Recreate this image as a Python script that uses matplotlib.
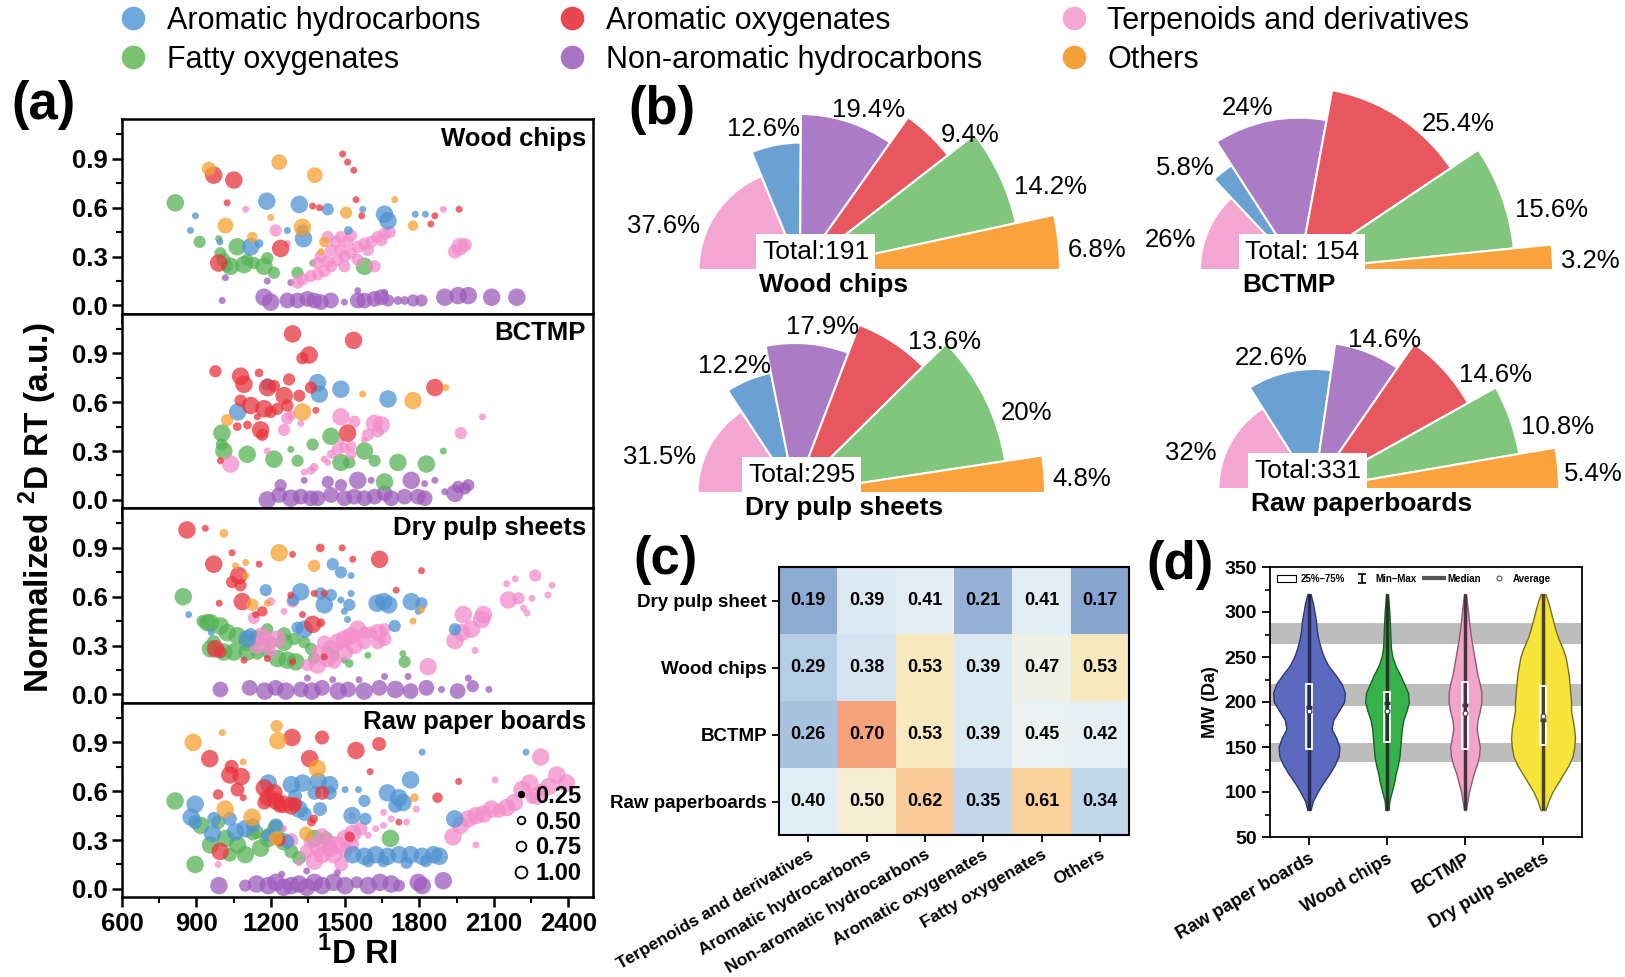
import numpy as np
import matplotlib
matplotlib.use("Agg")
import matplotlib.pyplot as plt
from matplotlib.patches import Wedge, Rectangle, Patch
from matplotlib.lines import Line2D
from matplotlib.colors import LinearSegmentedColormap

plt.rcParams['font.family'] = ['Liberation Sans', 'DejaVu Sans']
plt.rcParams['mathtext.fontset'] = 'custom'
plt.rcParams['mathtext.rm'] = 'Liberation Sans'
plt.rcParams['mathtext.bf'] = 'Liberation Sans:bold'

#### data #####################################################################
categories = ['Aromatic hydrocarbons', 'Fatty oxygenates', 'Aromatic oxygenates',
              'Non-aromatic hydrocarbons', 'Terpenoids and derivatives', 'Others']
cat_colors = ['#6fa8dc', '#7ac170', '#e8474f', '#a974c4', '#f4a8d2', '#f5a03a']

# (a) scatter points: (1D RI, normalized 2D RT, relative size)
wood_blue = [(1184,0.64,1.0),(1315,0.62,1.0),(1430,0.59,0.7),(896,0.55,0.4),(876,0.46,0.4),(1332,0.41,1.0),
             (1328,0.46,0.7),(1119,0.36,1.0),(1153,0.38,0.5),(1571,0.59,0.4),(1513,0.46,0.5),(1659,0.56,1.0),
             (1673,0.52,1.0),(1783,0.56,0.4),(1824,0.56,0.4),(995,0.39,0.4),(1267,0.46,0.4)]
wood_red = [(970,0.80,1.0),(1051,0.77,1.0),(1490,0.93,0.4),(1510,0.88,0.4),(1535,0.83,0.4),(1024,0.63,0.4),
            (1369,0.61,0.4),(1396,0.60,0.4),(1544,0.65,0.4),(1567,0.55,0.4),(1862,0.55,0.4),(1846,0.50,0.4),
            (1960,0.59,0.4),(1240,0.35,1.0),(990,0.26,1.0)]
wood_pink = [(1099,0.59,0.4),(1220,0.46,0.7),(1267,0.38,0.4),(1896,0.59,0.4),(1963,0.36,1.0),(1983,0.37,0.8),
             (1943,0.33,0.8),(1328,0.16,0.7),(1362,0.18,0.7),(1389,0.19,0.7),(1416,0.21,0.7),(1443,0.24,0.7),
             (1430,0.27,0.7),(1470,0.28,0.7),(1497,0.30,0.7),(1483,0.34,0.7),(1524,0.32,0.7),(1551,0.36,0.7),
             (1578,0.38,0.7),(1605,0.39,0.7),(1632,0.42,0.7),(1659,0.44,0.7),(1680,0.45,0.7),(1483,0.42,0.7),
             (1510,0.39,0.7),(1443,0.34,0.7),(1389,0.26,0.7),(1497,0.24,0.7),(1551,0.28,0.7),(1592,0.34,0.7),
             (1619,0.24,0.7),(1646,0.40,0.7),(1308,0.14,0.7),(1402,0.30,0.7),(1463,0.39,0.7),(1524,0.43,0.7),
             (1430,0.42,0.7)]
wood_green = [(815,0.63,1.0),(913,0.39,0.7),(990,0.41,0.4),(1065,0.36,1.0),(997,0.32,0.7),(1038,0.24,1.0),
              (1092,0.25,1.0),(1105,0.28,0.7),(1173,0.24,1.0),(1213,0.20,0.7),(1308,0.20,0.7),(1369,0.26,0.4),
              (1578,0.24,1.0),(1024,0.24,0.7),(1186,0.29,0.7),(1132,0.26,0.7),(1010,0.28,0.8)]
wood_purple = [(1004,0.03,0.4),(1173,0.05,1.0),(1200,0.02,1.0),(1267,0.03,0.9),(1308,0.03,0.9),(1348,0.04,0.9),
               (1375,0.03,0.9),(1402,0.02,0.9),(1443,0.03,0.9),(1497,0.02,0.4),(1551,0.03,0.9),(1578,0.03,0.9),
               (1619,0.04,0.9),(1646,0.05,0.9),(1673,0.03,0.7),(1713,0.03,0.5),(1740,0.03,0.5),(1774,0.03,0.7),
               (1808,0.03,0.7),(1902,0.05,1.0),(1956,0.06,1.0),(1997,0.06,1.0),(2091,0.05,1.0),(2193,0.05,1.0),
               (1017,0.17,0.4),(1186,0.15,0.4),(1281,0.14,0.4),(1551,0.09,0.4),(1659,0.08,0.4)]
wood_orange = [(950,0.84,0.8),(1234,0.88,0.9),(1378,0.80,0.9),(1700,0.65,0.4),(1017,0.49,0.9),(1200,0.54,0.4),
               (1504,0.57,0.7),(1328,0.48,1.0),(1126,0.42,0.6),(1416,0.39,0.6),(1403,0.33,0.4),(1774,0.49,0.6)]

bct_blue = [(1389,0.72,1.0),(1396,0.65,1.0),(1483,0.68,1.0),(1673,0.62,1.0),(1067,0.54,1.0),(1186,0.71,0.7)]
bct_red = [(1288,1.02,1.0),(1534,0.98,1.0),(1355,0.89,1.0),(1328,0.87,0.7),(977,0.79,0.7),(1078,0.76,1.0),
           (1092,0.71,1.0),(1153,0.78,0.5),(1187,0.69,1.0),(1213,0.70,0.7),(1274,0.74,0.7),(1254,0.64,1.0),
           (1315,0.64,0.7),(1078,0.61,0.7),(1119,0.58,1.0),(1173,0.56,1.0),(1200,0.54,0.7),(1227,0.56,0.7),
           (1267,0.58,0.7),(1382,0.55,0.4),(1146,0.51,0.4),(1065,0.45,0.5),(1106,0.46,0.5),(1159,0.43,1.0),
           (1166,0.40,0.7),(1510,0.41,1.0),(1862,0.69,1.0),(997,0.24,0.4),(1362,0.69,0.7)]
bct_pink = [(1038,0.22,1.0),(1186,0.30,0.4),(1254,0.43,0.7),(1267,0.50,0.7),(1281,0.52,0.6),(1483,0.51,1.0),
            (1537,0.48,0.7),(1619,0.47,1.0),(1646,0.46,1.0),(1632,0.42,0.7),(1592,0.40,0.7),(1578,0.37,0.4),
            (2054,0.51,0.4),(1967,0.41,0.7),(1335,0.17,0.4),(1375,0.20,0.5),(1416,0.25,0.4),(1443,0.28,0.5),
            (1470,0.31,0.7),(1497,0.32,0.6),(1524,0.33,0.6),(1483,0.36,0.4),(1430,0.23,0.4),(1362,0.18,0.5),
            (1321,0.47,0.4),(1524,0.28,0.6)]
bct_green = [(1003,0.41,1.0),(1003,0.34,0.7),(1011,0.30,1.0),(1105,0.28,1.0),(1213,0.25,1.0),(1281,0.31,0.4),
             (1308,0.24,0.7),(1369,0.34,0.7),(1443,0.39,1.0),(1483,0.23,1.0),(1517,0.23,0.7),(1578,0.30,1.0),
             (1619,0.24,0.7),(1713,0.23,1.0),(1828,0.22,1.0),(1896,0.30,0.4),(1659,0.11,1.0)]
bct_purple = [(1186,0.00,1.0),(1234,0.03,0.9),(1281,0.01,1.0),(1321,0.02,0.9),(1362,0.01,0.9),(1389,0.01,0.9),
              (1443,0.03,0.9),(1497,0.01,0.9),(1537,0.02,0.9),(1578,0.01,0.9),(1619,0.02,0.9),(1659,0.04,0.9),
              (1686,0.01,0.9),(1740,0.02,0.9),(1794,0.02,0.9),(1821,0.01,0.9),(1902,0.05,0.4),(1943,0.04,1.0),
              (1983,0.07,0.7),(1240,0.09,0.7),(1335,0.12,0.4),(1430,0.11,0.7),(1483,0.09,0.7),(1551,0.12,1.0),
              (1605,0.12,0.4),(1767,0.12,1.0),(1821,0.10,0.4),(1862,0.12,0.4),(1956,0.08,0.7),(1997,0.09,0.7)]
bct_orange = [(1571,0.65,0.4),(1774,0.61,1.0),(1906,0.69,0.4),(1024,0.49,0.7),(1328,0.54,1.0)]

dry_blue = [(1450,0.80,0.7),(1483,0.75,0.7),(1524,0.73,0.4),(1180,0.64,0.7),(1321,0.63,1.0),(1291,0.58,0.7),
            (1402,0.62,0.7),(1443,0.61,0.7),(1416,0.55,1.0),(1483,0.58,0.4),(1524,0.62,0.4),(1517,0.55,0.7),
            (1497,0.51,0.4),(1629,0.56,1.0),(1656,0.57,1.0),(1676,0.55,1.0),(1767,0.57,1.0),(1808,0.56,0.7),
            (1795,0.51,0.4),(1700,0.42,0.7),(1943,0.40,0.7),(869,0.49,0.4),(960,0.38,0.4),(1335,0.40,1.0),
            (1308,0.41,0.7),(1119,0.37,0.7),(1105,0.34,1.0),(1510,0.46,0.4)]
dry_red = [(862,1.01,1.0),(936,1.02,0.4),(970,0.80,1.0),(1044,0.87,0.4),(1071,0.73,1.0),(1044,0.69,0.7),
           (1078,0.67,0.7),(1153,0.80,0.4),(1288,0.86,0.4),(1400,0.90,0.5),(1488,0.90,0.4),(1531,0.83,0.4),
           (1639,0.83,1.0),(1808,0.76,0.4),(1706,0.64,0.4),(1085,0.57,1.0),(992,0.56,0.4),(1139,0.49,0.4),
           (1166,0.51,0.6),(1328,0.49,0.4),(1281,0.61,0.4),(1375,0.62,0.4),(1416,0.62,0.4),(1369,0.43,1.0),
           (1402,0.44,0.5),(977,0.28,1.0),(997,0.26,0.7),(1092,0.21,0.4),(1186,0.22,0.4),(1288,0.20,0.4),
           (1416,0.23,0.4)]
dry_pink = [(1166,0.36,1.0),(1186,0.32,1.0),(1227,0.34,1.0),(1200,0.26,0.7),(1146,0.30,1.0),(1254,0.51,0.4),
            (1288,0.57,0.7),(1200,0.57,0.5),(1132,0.47,0.7),(1348,0.18,0.7),(1389,0.18,1.0),(1430,0.22,1.0),
            (1443,0.28,1.0),(1470,0.32,1.0),(1497,0.34,1.0),(1524,0.36,1.0),(1551,0.40,1.0),(1578,0.38,0.7),
            (1605,0.38,0.7),(1632,0.38,1.0),(1659,0.40,0.7),(1497,0.26,1.0),(1537,0.30,1.0),(1578,0.32,0.8),
            (1632,0.32,0.8),(1659,0.34,0.8),(1416,0.32,0.8),(1389,0.26,0.8),(1456,0.20,0.8),(1835,0.17,1.0),
            (2024,0.27,0.4),(1943,0.33,1.0),(1970,0.38,1.0),(2010,0.40,1.0),(2051,0.46,1.0),(1977,0.49,1.0),
            (2058,0.49,1.0),(2152,0.68,0.4),(2186,0.71,0.4),(2267,0.73,0.7),(2159,0.58,1.0),(2200,0.59,0.7),
            (2220,0.53,0.4),(2234,0.50,0.4),(2254,0.59,0.4),(2335,0.67,0.4),(2318,0.61,0.4)]
dry_green = [(847,0.60,1.0),(925,0.45,0.7),(945,0.44,1.0),(957,0.44,1.0),(997,0.42,1.0),(1024,0.38,1.0),
             (1065,0.36,1.0),(1105,0.32,1.0),(1146,0.34,1.0),(1186,0.40,0.7),(1200,0.32,0.7),(1254,0.32,1.0),
             (1294,0.34,0.7),(957,0.28,1.0),(1011,0.26,1.0),(1051,0.26,1.0),(1105,0.26,1.0),(1146,0.25,0.7),
             (1186,0.26,0.7),(1227,0.22,1.0),(1267,0.21,1.0),(1301,0.20,1.0),(1362,0.28,0.7),(1375,0.22,0.7),
             (1430,0.26,0.7),(1456,0.24,0.6),(1497,0.21,0.4),(1517,0.19,0.5),(1592,0.24,0.4),(1740,0.20,0.7),
             (1733,0.25,0.4),(970,0.32,0.8),(1254,0.37,0.8),(1335,0.32,0.7)]
dry_purple = [(997,0.03,0.9),(1115,0.04,0.9),(1176,0.02,1.0),(1220,0.04,0.9),(1261,0.02,1.0),(1322,0.03,0.9),
              (1366,0.02,1.0),(1407,0.04,0.9),(1472,0.02,1.0),(1512,0.03,0.9),(1577,0.02,1.0),(1638,0.04,0.9),
              (1703,0.03,1.0),(1764,0.02,0.9),(1828,0.04,0.9),(1889,0.03,0.4),(1954,0.02,0.9),(2015,0.05,0.7),
              (2080,0.03,0.4),(1348,0.10,0.4),(1450,0.09,0.4),(1556,0.09,0.4),(1659,0.11,0.4),(1754,0.11,0.4),
              (1997,0.10,0.4)]
dry_orange = [(1011,0.99,0.5),(1234,0.87,1.0),(1375,0.79,0.7),(1058,0.79,0.4),(1099,0.81,0.4),(1099,0.73,0.4),
              (1126,0.55,0.7),(1186,0.56,0.4),(1808,0.52,0.4),(1774,0.45,0.4)]

raw_blue = [(895,0.52,1.0),(879,0.44,1.0),(895,0.41,0.8),(972,0.43,0.8),(965,0.34,1.0),(1035,0.43,0.8),
            (1058,0.35,1.0),(1097,0.37,1.0),(1128,0.39,0.8),(1190,0.65,1.0),(1283,0.64,1.0),(1329,0.65,1.0),
            (1392,0.66,1.0),(1438,0.64,1.0),(1376,0.59,0.8),(1298,0.57,0.8),(1314,0.49,1.0),(1337,0.46,0.8),
            (1399,0.49,0.8),(1438,0.59,0.8),(1500,0.61,0.4),(1554,0.61,0.4),(1578,0.54,0.7),(1528,0.45,1.0),
            (1582,0.43,0.7),(1671,0.59,1.0),(1717,0.56,1.0),(1733,0.53,1.0),(1702,0.51,0.8),(1764,0.67,1.0),
            (1811,0.84,0.4),(2230,0.84,0.4),(1942,0.43,1.0),(1221,0.39,0.8),(1190,0.33,0.8),(1267,0.29,0.8),
            (1531,0.21,1.0),(1578,0.20,1.0),(1624,0.21,1.0),(1671,0.20,1.0),(1717,0.21,1.0),(1764,0.21,1.0),
            (1811,0.20,1.0),(1857,0.21,1.0),(1880,0.20,1.0),(1593,0.17,0.7),(1655,0.17,0.7),(1748,0.16,0.7),
            (1826,0.17,0.7)]
raw_red = [(1286,0.93,1.0),(1407,0.93,0.8),(1544,0.85,1.0),(1637,0.89,0.8),(954,0.80,1.0),(1042,0.75,0.8),
           (1035,0.70,1.0),(1081,0.69,1.0),(1066,0.61,0.8),(988,0.58,0.6),(1089,0.56,0.4),(1174,0.62,1.0),
           (1213,0.59,1.0),(1190,0.56,1.0),(1221,0.54,1.0),(1252,0.52,1.0),(1283,0.51,1.0),(1298,0.52,0.8),
           (1174,0.53,0.8),(1236,0.51,0.8),(1357,0.80,1.0),(1407,0.59,0.8),(1373,0.43,0.5),(1364,0.41,0.5),
           (1519,0.32,0.6),(1601,0.72,0.4),(1873,0.56,0.6),(1958,0.66,0.4),(1717,0.41,0.4),(996,0.23,1.0),
           (1236,0.30,0.7)]
raw_pink = [(988,0.15,0.4),(1376,0.17,1.0),(1407,0.21,1.0),(1438,0.25,1.0),(1469,0.27,1.0),(1500,0.31,1.0),
            (1531,0.34,1.0),(1562,0.37,0.8),(1392,0.25,1.0),(1438,0.29,0.8),(1454,0.21,1.0),(1500,0.23,0.8),
            (1485,0.15,0.8),(1345,0.23,0.8),(1360,0.29,0.8),(1407,0.33,0.8),(1528,0.27,0.8),(1314,0.16,0.4),
            (1593,0.33,0.4),(1624,0.37,0.4),(1655,0.39,0.4),(1686,0.43,0.4),(1748,0.41,0.4),(1655,0.47,0.4),
            (1528,0.45,0.4),(1787,0.49,0.4),(1283,0.30,0.8),(1252,0.37,0.4),(1935,0.32,1.0),(1966,0.39,1.0),
            (1997,0.43,1.0),(2028,0.45,1.0),(2059,0.46,1.0),(2090,0.49,1.0),(2121,0.48,0.8),(2152,0.50,1.0),
            (2183,0.53,1.0),(2214,0.61,1.0),(2245,0.65,1.0),(2276,0.57,1.0),(2323,0.63,1.0),(2354,0.70,1.0),
            (2393,0.65,1.0),(2289,0.81,1.0),(2028,0.27,0.4),(2105,0.67,0.4),(2292,0.61,0.7),(2253,0.56,0.7)]
raw_green = [(814,0.54,1.0),(895,0.15,1.0),(918,0.39,1.0),(988,0.41,0.8),(957,0.27,1.0),(1019,0.31,1.0),
             (1066,0.27,1.0),(1097,0.21,1.0),(1159,0.25,1.0),(1190,0.31,1.0),(1221,0.37,1.0),(1252,0.29,1.0),
             (1143,0.35,0.8),(1035,0.21,0.8),(1283,0.23,0.8),(1314,0.19,0.8),(1376,0.31,1.0),(1423,0.31,0.8),
             (1683,0.31,1.0),(1128,0.34,0.8)]
raw_purple = [(991,0.02,1.0),(1097,0.02,0.7),(1143,0.03,1.0),(1190,0.02,1.0),(1221,0.04,1.0),(1252,0.01,1.0),
              (1283,0.02,1.0),(1314,0.03,1.0),(1345,0.01,1.0),(1376,0.04,1.0),(1407,0.02,1.0),(1454,0.04,1.0),
              (1500,0.02,1.0),(1547,0.04,0.7),(1593,0.02,1.0),(1640,0.04,1.0),(1686,0.03,1.0),(1717,0.02,0.7),
              (1795,0.04,1.0),(1811,0.02,1.0),(1896,0.05,1.0),(1244,0.09,0.4),(1345,0.11,0.4),(1469,0.10,0.4)]
raw_orange = [(887,0.90,1.0),(1004,0.96,0.4),(1224,1.00,0.7),(1229,0.91,1.0),(1388,0.74,1.0),(1089,0.78,0.4),
              (1016,0.49,1.0),(1125,0.44,1.0),(1342,0.34,0.8),(1779,0.56,0.5),(1221,0.31,0.8)]

scatter_titles = ['Wood chips', 'BCTMP', 'Dry pulp sheets', 'Raw paper boards']
size_levels = [0.25, 0.50, 0.75, 1.00]

# (b) half-pie percentages, order: terpenoids, arom. hydrocarbons, non-arom. hydrocarbons,
#     arom. oxygenates, fatty oxygenates, others
pie_names = ['Wood chips', 'BCTMP', 'Dry pulp sheets', 'Raw paperboards']
pie_totals = ['Total:191', 'Total: 154', 'Total:295', 'Total:331']
pie_wood = [37.6, 12.6, 19.4, 9.4, 14.2, 6.8]
pie_bctmp = [26, 5.8, 24, 25.4, 15.6, 3.2]
pie_dry = [31.5, 12.2, 17.9, 13.6, 20, 4.8]
pie_raw = [32, 22.6, 14.6, 14.6, 10.8, 5.4]

# (c) heatmap
heat_rows = ['Dry pulp sheet', 'Wood chips', 'BCTMP', 'Raw paperboards']
heat_cols = ['Terpenoids and derivatives', 'Aromatic hydrocarbons', 'Non-aromatic hydrocarbons',
             'Aromatic oxygenates', 'Fatty oxygenates', 'Others']
heat_dry = [0.19, 0.39, 0.41, 0.21, 0.41, 0.17]
heat_wood = [0.29, 0.38, 0.53, 0.39, 0.47, 0.53]
heat_bctmp = [0.26, 0.70, 0.53, 0.39, 0.45, 0.42]
heat_raw = [0.40, 0.50, 0.62, 0.35, 0.61, 0.34]

# (d) violins: half widths read along the MW grid
vio_names = ['Raw paper boards', 'Wood chips', 'BCTMP', 'Dry pulp sheets']
mw_grid = [80, 90, 100, 110, 120, 130, 140, 150, 160, 170, 180, 190, 200,
           210, 220, 230, 240, 250, 260, 270, 280, 290, 300, 310, 320]
vio_raw = [0.02, 0.05, 0.11, 0.18, 0.26, 0.33, 0.38, 0.39, 0.35, 0.29, 0.31, 0.38, 0.45,
           0.46, 0.42, 0.34, 0.25, 0.19, 0.15, 0.12, 0.10, 0.09, 0.07, 0.05, 0.02]
vio_wood = [0.02, 0.03, 0.06, 0.09, 0.11, 0.14, 0.16, 0.17, 0.18, 0.19, 0.21, 0.25, 0.28,
            0.27, 0.22, 0.17, 0.11, 0.07, 0.05, 0.045, 0.04, 0.035, 0.03, 0.02, 0.01]
vio_bctmp = [0.01, 0.03, 0.05, 0.08, 0.11, 0.15, 0.18, 0.19, 0.17, 0.15, 0.16, 0.19, 0.21,
             0.21, 0.19, 0.16, 0.14, 0.12, 0.10, 0.08, 0.065, 0.05, 0.04, 0.025, 0.01]
vio_dry = [0.03, 0.07, 0.12, 0.19, 0.26, 0.33, 0.38, 0.40, 0.41, 0.40, 0.38, 0.36, 0.36,
           0.35, 0.34, 0.33, 0.31, 0.29, 0.25, 0.20, 0.16, 0.13, 0.10, 0.07, 0.03]
vio_min = [80, 80, 80, 80]
vio_q1 = [148, 156, 148, 152]
vio_med = [195, 199, 197, 180]
vio_mean = [190, 190, 188, 185]
vio_q3 = [220, 211, 222, 218]
vio_max = [320, 320, 320, 320]
mw_bands = [(133, 155), (196, 220), (265, 288)]

#### layout helpers (pixel boxes of the 1625x977 canvas) #####################
W, H = 1625, 977
def pbox(x0, y0, x1, y1):
    return [x0 / W, 1 - y1 / H, (x1 - x0) / W, (y1 - y0) / H]

fig = plt.figure(figsize=(W / 100, H / 100), dpi=100)

#### top legend ###############################################################
handles = [Line2D([], [], ls='none', marker='o', ms=17, mfc=c, mec='none') for c in cat_colors]
fig.legend(handles, categories, ncol=3, loc='upper left', bbox_to_anchor=(118 / W, 1 - 6 / H),
           frameon=False, fontsize=22, handlelength=1.0, handletextpad=0.6, columnspacing=2.5,
           labelspacing=0.3, borderpad=0, borderaxespad=0)

#### (a) stacked scatter panels ##############################################
scatter_sets = [
    [wood_blue, wood_green, wood_red, wood_purple, wood_pink, wood_orange],
    [bct_blue, bct_green, bct_red, bct_purple, bct_pink, bct_orange],
    [dry_blue, dry_green, dry_red, dry_purple, dry_pink, dry_orange],
    [raw_blue, raw_green, raw_red, raw_purple, raw_pink, raw_orange],
]
draw_order = [3, 1, 4, 0, 2, 5]
pt_colors = ['#4f93d2', '#55b455', '#e8343e', '#9c5cbc', '#f38ccb', '#f7a030']

a_top, a_bot = 119, 897
ph = (a_bot - a_top) / 4
for i, (title, sets) in enumerate(zip(scatter_titles, scatter_sets)):
    ax = fig.add_axes(pbox(122, a_top + i * ph, 593, a_top + (i + 1) * ph))
    for k in draw_order:
        pts = np.array(sets[k])
        ax.scatter(pts[:, 0], pts[:, 1], s=(17.5 * 0.72 * pts[:, 2]) ** 2, color=pt_colors[k],
                   alpha=0.75, lw=0)
    ax.set_xlim(600, 2500)
    ax.set_ylim(-0.05, 1.145)
    ax.set_xticks(np.arange(600, 2401, 300))
    ax.set_xticks(np.arange(750, 2500, 300), minor=True)
    ax.set_yticks([0.0, 0.3, 0.6, 0.9])
    ax.set_yticks([0.15, 0.45, 0.75, 1.05], minor=True)
    ax.set_yticklabels(['0.0', '0.3', '0.6', '0.9'], fontsize=18.5, fontweight='bold')
    ax.tick_params(which='major', length=7, width=1.8, direction='out')
    ax.tick_params(which='minor', length=4, width=1.5, direction='out')
    for s in ax.spines.values():
        s.set_linewidth(1.8)
    ax.text(0.985, 0.96, title, transform=ax.transAxes, ha='right', va='top',
            fontsize=18.5, fontweight='bold')
    if i < 3:
        ax.set_xticklabels([])
    else:
        ax.set_xticklabels([str(v) for v in range(600, 2401, 300)], fontsize=18.5, fontweight='bold')
        ax.set_xlabel(r'$^\mathbf{1}$D RI', fontsize=24, fontweight='bold', labelpad=0)
        sz_handles = []
        for lv in size_levels:
            filled = lv < 0.3
            sz_handles.append(Line2D([], [], ls='none', marker='o', ms=2.5 + 6 * lv,
                                     mfc='k' if filled else 'none', mec='k', mew=1.3))
        ax.legend(sz_handles, [f'{v:.2f}' for v in size_levels], loc='lower right',
                  frameon=False, handlelength=0.6, handletextpad=0.3, labelspacing=0.12,
                  borderaxespad=0.1, prop={'size': 17, 'weight': 'bold'})

fig.text(38 / W, 1 - 508 / H, r'Normalized $^\mathbf{2}$D RT (a.u.)', rotation=90,
         ha='center', va='center', fontsize=24, fontweight='bold')
fig.text(44 / W, 1 - 105 / H, '(a)', ha='center', va='center', fontsize=38, fontweight='bold')

#### (b) half pies ############################################################
pie_colors = ['#f4a6d2', '#6aa0d2', '#ac7bc6', '#e8565f', '#80c67c', '#f9a23e']
ring_frac = [0.39, 0.49, 0.60, 0.72, 0.85, 1.0]
pie_sets = [pie_wood, pie_bctmp, pie_dry, pie_raw]
pie_cx = [800, 1299, 795, 1314]
pie_base = [270, 270, 493, 489]
pie_R = [260, 254, 250, 245]
pie_box_left = [757, 1240, 743, 1249]

axb = fig.add_axes(pbox(620, 80, 1625, 530))
axb.set_xlim(620, 1625)
axb.set_ylim(H - 530, H - 80)
axb.axis('off')
pct_texts = []
for vals, name, tot, cx, by, R, bx in zip(pie_sets, pie_names, pie_totals, pie_cx, pie_base,
                                          pie_R, pie_box_left):
    cy = H - by
    a0 = 180.0
    for v, col, rf in zip(vals, pie_colors, ring_frac):
        a1 = a0 - 180.0 * v / 100.0
        r = R * rf
        axb.add_patch(Wedge((cx, cy), r, a1, a0, facecolor=col, edgecolor='white', lw=1.5))
        mid = (a0 + a1) / 2
        frac = 0.65 if mid > 90 else 0.35
        ang = np.deg2rad(a1 + frac * (a0 - a1))
        c, s = np.cos(ang), np.sin(ang)
        rl = r + (8 if abs(c) > 0.45 else 18)
        ha = 'right' if c < -0.45 else ('left' if c > 0.45 else 'center')
        pct_texts.append(axb.text(cx + rl * c, cy + rl * s, f'{v:g}%', ha=ha, va='center',
                                  fontsize=18.5))
        a0 = a1
    axb.text(bx + 5, cy + 18, tot, ha='left', va='center', fontsize=19, zorder=5,
             bbox=dict(facecolor='white', edgecolor='none', pad=4))
    axb.text(bx + 2, cy - 15, name, ha='left', va='center', fontsize=19, fontweight='bold')
fig.text(662 / W, 1 - 110 / H, '(b)', ha='center', va='center', fontsize=38, fontweight='bold')

# keep percentage labels inside the canvas
fig.canvas.draw()
renderer = fig.canvas.get_renderer()
for t in pct_texts:
    bb = t.get_window_extent(renderer)
    if bb.x1 > W - 2:
        x, y = t.get_position()
        t.set_position((x - (bb.x1 - (W - 2)), y))

#### (c) heatmap ##############################################################
heat = np.array([heat_dry, heat_wood, heat_bctmp, heat_raw])
anchor_v = np.array([0.17, 0.26, 0.30, 0.35, 0.40, 0.45, 0.50, 0.53, 0.61, 0.70])
anchor_c = ['#86a4cf', '#a9c4e0', '#b9d3e8', '#c3d9eb', '#e1edf5', '#ebf2f1', '#f6efd3',
            '#f8e8be', '#fbd19e', '#f5a27d']
heat_cmap = LinearSegmentedColormap.from_list(
    'heat', list(zip((anchor_v - 0.17) / (0.70 - 0.17), anchor_c)))
axc = fig.add_axes(pbox(779, 567, 1129, 835))
axc.imshow(heat, cmap=heat_cmap, vmin=0.17, vmax=0.70, aspect='auto')
for i in range(heat.shape[0]):
    for j in range(heat.shape[1]):
        axc.text(j, i, f'{heat[i, j]:.2f}', ha='center', va='center', fontsize=13,
                 fontweight='bold')
axc.set_xticks(range(len(heat_cols)))
axc.set_xticklabels(heat_cols, rotation=30, ha='right', rotation_mode='anchor',
                    fontsize=12.5, fontweight='bold')
axc.set_yticks(range(len(heat_rows)))
axc.set_yticklabels(heat_rows, fontsize=13.5, fontweight='bold')
axc.tick_params(length=5, width=1.3)
for s in axc.spines.values():
    s.set_linewidth(1.5)
fig.text(665 / W, 1 - 560 / H, '(c)', ha='center', va='center', fontsize=38, fontweight='bold')

#### (d) violins ##############################################################
vio_sets = [vio_raw, vio_wood, vio_bctmp, vio_dry]
vio_fill = ['#5b6abf', '#35b34a', '#f1a6c8', '#f7e43a']
vio_edge = ['#2f3670', '#1d5e28', '#8e5a74', '#7a6f1a']
vio_core = ['#262b55', '#1e3a22', '#4a3040', '#4a4220']
axd = fig.add_axes(pbox(1270, 567, 1582, 837))
for lo, hi in mw_bands:
    axd.axhspan(lo, hi, color='#bdbdbd', zorder=0, lw=0)
for i, hw in enumerate(vio_sets):
    x = i + 1
    hw = np.array(hw)
    axd.fill_betweenx(mw_grid, x - hw, x + hw, facecolor=vio_fill[i], edgecolor=vio_edge[i],
                      lw=1.0, zorder=2)
    axd.vlines(x, vio_min[i], vio_max[i], color=vio_core[i], lw=2.5, zorder=3)
    axd.add_patch(Rectangle((x - 0.04, vio_q1[i]), 0.08, vio_q3[i] - vio_q1[i], fill=False,
                            ec='white', lw=1.3, zorder=4))
    axd.hlines(vio_med[i], x - 0.04, x + 0.04, color=vio_core[i], lw=2.5, zorder=5)
    axd.plot([x], [vio_mean[i]], 'o', ms=3.5, mfc='white', mec=vio_core[i], mew=0.8, zorder=6)
eb = axd.errorbar([-5], [0], yerr=[10], fmt='none', ecolor='k', elinewidth=1.2, capsize=3,
                  capthick=1.2)
leg_h = [Patch(facecolor='white', edgecolor='k', lw=0.8), eb,
         Line2D([], [], color='#555555', lw=3),
         Line2D([], [], ls='none', marker='o', ms=3.5, mfc='white', mec='#555555', mew=0.8)]
axd.legend(leg_h, ['25%\u201375%', 'Min\u2013Max', 'Median', 'Average'], loc='upper left',
           ncol=4, frameon=False, handlelength=2.0, handletextpad=0.4, columnspacing=0.8,
           borderaxespad=0.3, prop={'size': 7, 'weight': 'bold'})
axd.set_xlim(0.5, 4.5)
axd.set_ylim(50, 350)
axd.set_xticks([1, 2, 3, 4])
axd.set_xticklabels(vio_names, rotation=30, ha='right', rotation_mode='anchor',
                    fontsize=13, fontweight='bold')
axd.set_yticks(range(50, 351, 50))
axd.set_yticks(range(75, 350, 50), minor=True)
axd.set_yticklabels([str(v) for v in range(50, 351, 50)], fontsize=14, fontweight='bold')
axd.set_ylabel('MW (Da)', fontsize=13, fontweight='bold', labelpad=4)
axd.tick_params(which='major', length=6, width=1.3)
axd.tick_params(which='minor', length=3.5, width=1.2)
for s in axd.spines.values():
    s.set_linewidth(1.3)
fig.text(1180 / W, 1 - 565 / H, '(d)', ha='center', va='center', fontsize=38, fontweight='bold')

fig.savefig('out.png', dpi=100)
